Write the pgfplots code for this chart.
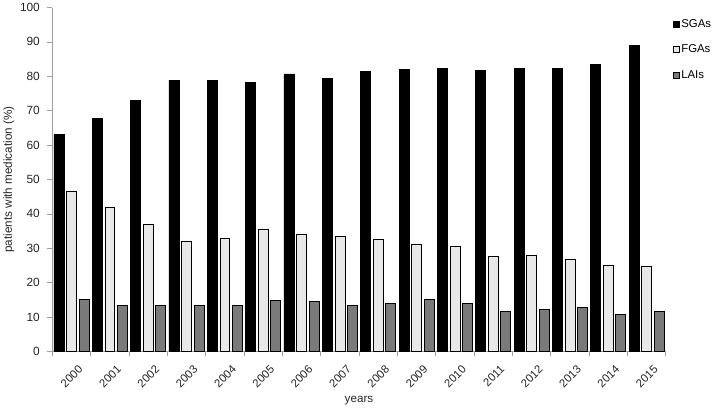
\documentclass[border=0pt]{standalone}
\usepackage{fontspec}
\setmainfont{Liberation Sans}
\usepackage{pgfplots}
\pgfplotsset{compat=1.18}
\definecolor{axgray}{HTML}{A0A0A0}
\definecolor{lightbar}{HTML}{E8E8E8}
\definecolor{darkbar}{HTML}{7A7A7A}
\begin{document}
\begin{tikzpicture}
\begin{axis}[
  scale only axis,
  width=617bp, height=346bp,
  xmin=-0.5, xmax=15.5,
  ymin=0, ymax=100,
  ytick={0,10,...,100},
  xtick={0,...,15},
  xticklabels={2000,2001,2002,2003,2004,2005,2006,2007,2008,2009,2010,2011,2012,2013,2014,2015},
  minor xtick={-0.5,0.5,...,15.5},
  axis lines*=left,
  axis line style={axgray, line width=0.8bp},
  every tick/.style={axgray, line width=0.8bp},
  major x tick style={draw=none},
  tick align=outside,
  major tick length=5bp, minor tick length=5bp,
  x tick label style={rotate=45, anchor=north east, inner sep=0bp, xshift=-1bp, yshift=-10bp, font=\fontsize{11.5}{13}\selectfont, text=black!85},
  y tick label style={font=\fontsize{12}{14}\selectfont, text=black!85, xshift=-4bp},
  /pgf/number format/assume math mode=true,
  xlabel={years}, ylabel={patients with medication (\%)},
  label style={font=\fontsize{11.8}{14}\selectfont, text=black!85},
  xlabel style={yshift=-5bp},
  ylabel style={yshift=-1bp},
  ybar=2.6bp, bar width=10bp,
  legend style={at={(axis description cs:1.0,1.0)}, anchor=north west, draw=none, fill=none,
    font=\fontsize{11.5}{13}\selectfont, row sep=12bp, xshift=4bp, yshift=-8bp,
    /tikz/every even column/.append style={column sep=1bp}},
  legend cell align=left,
  legend image code/.code={\draw[#1, line width=0.5bp] (0bp,-3bp) rectangle (6bp,3bp);},
]
\addplot[fill=black, draw=black, line width=0.6bp] coordinates {
(0,63.0) (1,67.8) (2,73.1) (3,78.9) (4,78.9) (5,78.3) (6,80.7) (7,79.5)
(8,81.4) (9,82.1) (10,82.4) (11,81.8) (12,82.4) (13,82.4) (14,83.5) (15,88.9)};
\addplot[fill=lightbar, draw=black, line width=0.6bp] coordinates {
(0,46.5) (1,41.9) (2,36.9) (3,32.0) (4,32.8) (5,35.5) (6,34.0) (7,33.5)
(8,32.7) (9,31.2) (10,30.6) (11,27.7) (12,28.0) (13,26.9) (14,25.0) (15,24.7)};
\addplot[fill=darkbar, draw=black, line width=0.6bp] coordinates {
(0,15.2) (1,13.5) (2,13.5) (3,13.5) (4,13.5) (5,14.8) (6,14.5) (7,13.5)
(8,14.0) (9,15.2) (10,14.0) (11,11.7) (12,12.3) (13,12.9) (14,10.9) (15,11.7)};
\legend{SGAs,FGAs,LAIs}
\end{axis}
\end{tikzpicture}
\end{document}
